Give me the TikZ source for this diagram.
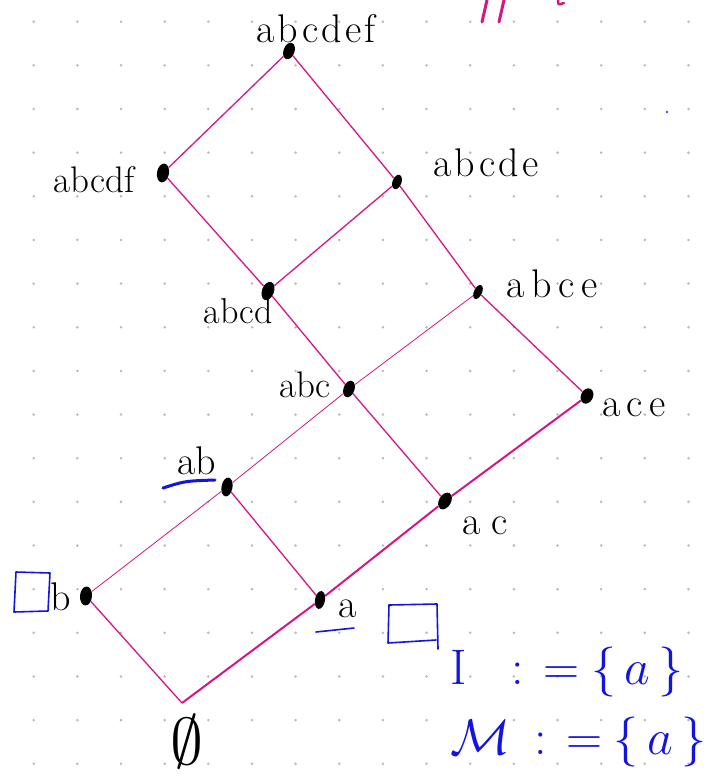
\RequirePackage{fix-cm}
\documentclass[tikz,border=0pt]{standalone}
\usepackage{fontspec}
\newfontfamily\hand{Latin Modern Roman}
\usetikzlibrary{shapes.geometric}
\definecolor{lat}{RGB}{214,22,130}
\definecolor{ink}{RGB}{20,20,225}
\definecolor{griddot}{RGB}{185,185,185}
\newcommand{\ls}[1]{\addfontfeature{LetterSpace=#1}}
\tikzset{
  vtx/.style={ellipse, fill=black, inner sep=0pt, minimum width=11pt, minimum height=17pt},
  edge/.style={draw=lat, line width=1.3pt},
  thinedge/.style={draw=lat, line width=0.8pt},
  thickedge/.style={draw=lat, line width=2pt},
  lbl/.style={font=\hand\fontsize{40}{44}\selectfont, inner sep=0pt},
  bluetxt/.style={text=ink, font=\fontsize{50}{54}\selectfont, inner sep=0pt, anchor=west},
  bluestroke/.style={draw=ink, line width=1.6pt, line cap=round, line join=round}
}
\begin{document}
\begin{tikzpicture}[x=1pt,y=-1pt]
\useasboundingbox (0,0) rectangle (727,778);
\fill[white] (0,0) rectangle (727,778);
\foreach \i in {0,...,15}{\foreach \j in {0,...,17}{\fill[griddot] (33.7+43.65*\i, 21.7+43.65*\j) circle (1.4pt);}}
% vertices
\node[vtx, rotate=-20] (abcdef) at (289,51) {};
\node[vtx, rotate=-10, minimum height=19pt, minimum width=12pt] (abcdf) at (163,173) {};
\node[vtx, rotate=-20, minimum height=15pt, minimum width=9pt] (abcde) at (397,182) {};
\node[vtx, rotate=-20, minimum height=19pt, minimum width=12pt] (abcd) at (268,291) {};
\node[vtx, rotate=-25, minimum height=15pt, minimum width=8pt] (abce) at (478,292) {};
\node[vtx, rotate=-20] (abc) at (349,389) {};
\node[vtx, rotate=-25, minimum height=16pt, minimum width=12pt] (ace) at (587,396) {};
\node[vtx, rotate=-10, minimum height=19pt, minimum width=11pt] (ab) at (227,487) {};
\node[vtx, rotate=-30, minimum height=18pt, minimum width=12pt] (ac) at (445,501) {};
\node[vtx, rotate=-5, minimum height=19pt, minimum width=12pt] (b) at (86,596) {};
\node[vtx, rotate=-10, minimum height=18pt, minimum width=10pt] (a) at (320,600) {};
\coordinate (e) at (182,703);
% edges
\draw[edge] (abcdef) -- (abcdf);
\draw[edge] (abcdef) -- (abcde);
\draw[edge] (abcdf) -- (abcd);
\draw[edge] (abcde) -- (abcd);
\draw[edge] (abcde) -- (abce);
\draw[edge] (abcd) -- (abc);
\draw[thinedge] (abce) -- (abc);
\draw[edge] (abce) -- (ace);
\draw[thinedge] (abc) -- (ab);
\draw[edge] (abc) -- (ac);
\draw[thickedge] (ace) -- (ac);
\draw[thinedge] (ab) -- (b);
\draw[edge] (ab) -- (a);
\draw[thickedge] (ac) -- (a);
\draw[edge] (b) -- (e);
\draw[thickedge] (a) -- (e);
% labels
\node[lbl] (Labcdef) at (316,29) {\ls{8}abcdef};
\node[lbl, font=\hand\fontsize{37}{40}\selectfont] (Labcdf) at (94,180) {abcdf};
\node[lbl] (Labcde) at (486,163) {\ls{8}abcde};
\node[lbl, font=\hand\fontsize{36}{40}\selectfont] (Labcd) at (238,311) {abcd};
\node[lbl] (Labce) at (552,284) {\ls{16}abce};
\node[lbl, font=\hand\fontsize{37}{40}\selectfont] (Labc) at (305,385) {abc};
\node[lbl] (Lace) at (634,408) {\ls{15}ace};
\node[lbl] (Lab) at (197,461) {ab};
\node[lbl] (Lac) at (485,526) {\ls{28}ac};
\node[lbl] (Lb) at (61,597) {b};
\node[lbl] (La) at (348,609) {a};
\node[font=\fontsize{66}{70}\selectfont, inner sep=0pt] (Lempty) at (187,742) {$\emptyset$};
% blue annotations
\draw[bluestroke, line width=3pt] (163,488) .. controls (185,481) .. (215,480);
\draw[bluestroke] (316,632) -- (354,628);
\draw[bluestroke] (50,573) -- (16,572) -- (14,612) -- (48,611) -- (50,573);
\draw[bluestroke] (389,605) -- (437,604) -- (438,649);
\draw[bluestroke] (389,605) -- (388,643) -- (436,640);
\node[bluetxt] (I) at (450,672) {$\mathrm{I}\hspace{45pt}{:}\hspace{19pt}{=}\hspace{12pt}\{\,a\,\}$};
\node[bluetxt] (M) at (450,742) {$\mathcal{M}\hspace{24pt}{:}\hspace{20pt}{=}\hspace{11pt}\{\,a\,\}$};
\fill[ink] (667,112) circle (1.2pt);
% magenta fragments at top
\draw[draw=lat, line width=3pt, line cap=round] (487,0) -- (482,22);
\draw[draw=lat, line width=3pt, line cap=round] (504,0) -- (499,22);
\draw[draw=lat, line width=2.5pt, line cap=round] (558,0) .. controls (558,5) .. (564,3);
\end{tikzpicture}
\end{document}
